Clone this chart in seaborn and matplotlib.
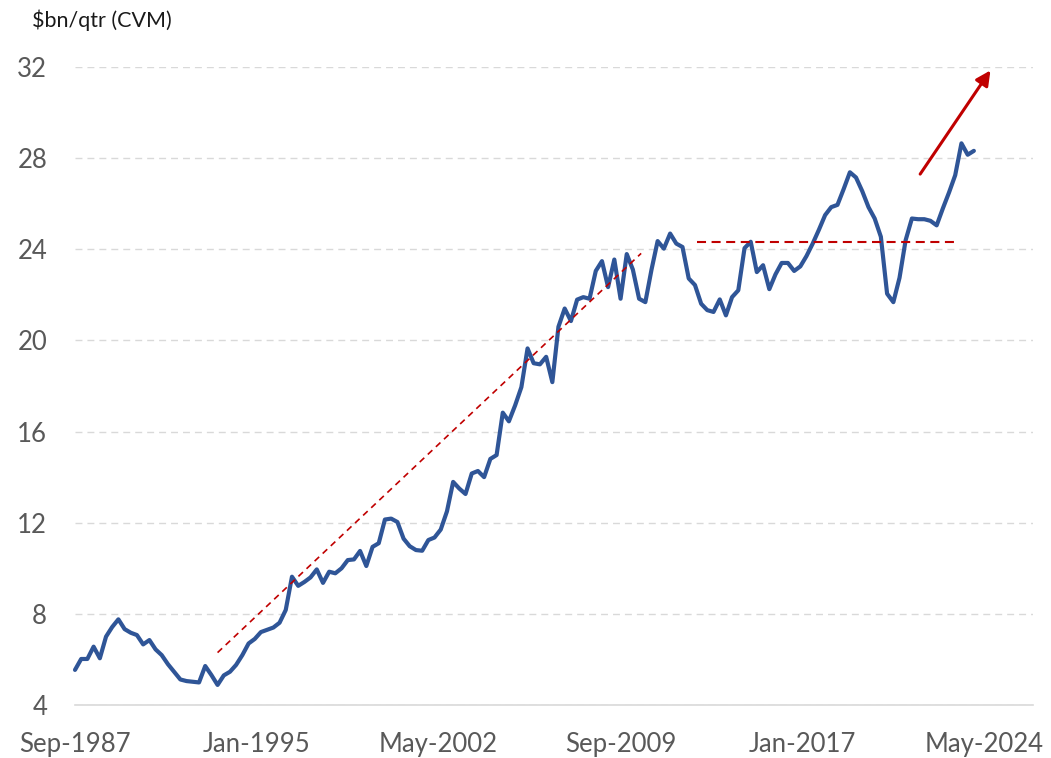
#Quarterly series, $bn/qtr (CVM), Sep-1987 to Dec-2023

import pandas as pd
import numpy as np
import seaborn as sns
import matplotlib.pyplot as plt
import matplotlib.dates as mdates

#Values, one per quarter
values = [5.54, 6.02, 6.02, 6.56, 6.05, 7.00, 7.42, 7.76, 7.33, 7.17,
          7.07, 6.66, 6.85, 6.44, 6.19, 5.79, 5.45, 5.12, 5.05, 5.02,
          4.99, 5.71, 5.32, 4.88, 5.30, 5.46, 5.76, 6.19, 6.70, 6.90,
          7.20, 7.30, 7.40, 7.61, 8.17, 9.63, 9.23, 9.40, 9.60, 9.95,
          9.36, 9.85, 9.78, 10.00, 10.36, 10.39, 10.76, 10.10, 10.94, 11.10,
          12.14, 12.18, 12.03, 11.30, 10.97, 10.80, 10.77, 11.24, 11.35, 11.70,
          12.50, 13.79, 13.50, 13.26, 14.16, 14.27, 14.00, 14.80, 14.97, 16.83,
          16.45, 17.15, 17.95, 19.65, 19.00, 18.95, 19.28, 18.17, 20.60, 21.40,
          20.85, 21.79, 21.90, 21.83, 23.05, 23.48, 22.34, 23.55, 21.83, 23.79,
          23.11, 21.83, 21.68, 23.11, 24.36, 24.03, 24.69, 24.25, 24.10, 22.72,
          22.43, 21.61, 21.33, 21.25, 21.80, 21.10, 21.90, 22.20, 24.05, 24.33,
          23.00, 23.30, 22.25, 22.90, 23.40, 23.40, 23.05, 23.25, 23.70, 24.25,
          24.86, 25.50, 25.85, 25.95, 26.65, 27.38, 27.15, 26.55, 25.85, 25.35,
          24.55, 22.05, 21.68, 22.75, 24.40, 25.35, 25.32, 25.32, 25.25, 25.05,
          25.80, 26.50, 27.25, 28.65, 28.15, 28.32]
dates = pd.date_range('1987-09-01', periods=len(values), freq='3MS')
df = pd.DataFrame({'date': dates, 'value': values})

#Tick labels on the x axis (every 88 months)
xtick_labels = ['Sep-1987', 'Jan-1995', 'May-2002', 'Sep-2009', 'Jan-2017', 'May-2024']
yticks = [4, 8, 12, 16, 20, 24, 28, 32]

#Red annotations: trend line, flat line, arrow
trend_x = ['1993-06-01', '2010-07-01']
trend_y = [6.3, 23.82]
flat_x = ['2012-10-01', '2023-03-01']
flat_y = [24.3, 24.3]
arrow_x = ['2021-10-01', '2024-08-01']
arrow_y = [27.3, 31.85]

sns.set_style('white')
plt.rcParams['font.family'] = ['Lato', 'DejaVu Sans']
plt.rcParams['lines.scale_dashes'] = False

fig = plt.figure(figsize=(10.51, 7.58), dpi=100)
ax = fig.add_axes([75/1051, 53/758, 958/1051, 638/758])

sns.lineplot(data=df, x='date', y='value', ax=ax, color='#2f5597', linewidth=3.0,
             solid_joinstyle='round', solid_capstyle='round', clip_on=False)

#trend + flat lines
ax.plot(pd.to_datetime(trend_x), trend_y, color='#c00000', linewidth=1.2, dashes=(4.5, 3.5))
ax.plot(pd.to_datetime(flat_x), flat_y, color='#c00000', linewidth=1.5, dashes=(6.5, 4))
ax.annotate('', xy=(pd.Timestamp(arrow_x[1]), arrow_y[1]),
            xytext=(pd.Timestamp(arrow_x[0]), arrow_y[0]),
            arrowprops=dict(arrowstyle='-|>', color='#c00000', lw=2.2,
                            mutation_scale=22, shrinkA=0, shrinkB=0))

#axes
ax.set_ylim(4, 32)
ax.set_yticks(yticks)
ax.set_xlim(pd.Timestamp('1987-09-01'), pd.Timestamp('2026-04-20'))
xticks = [pd.Timestamp(pd.to_datetime(l, format='%b-%Y')) for l in xtick_labels]
ax.set_xticks(xticks)
ax.set_xticklabels(xtick_labels)
ax.set_xlabel('')
ax.set_ylabel('')

ax.yaxis.grid(True, color='#d9d9d9', linewidth=1.0, linestyle=(0, (5, 3.6)))
ax.xaxis.grid(False)
for s in ['top', 'right', 'left']:
    ax.spines[s].set_visible(False)
ax.spines['bottom'].set_color('#d9d9d9')
ax.spines['bottom'].set_linewidth(1.2)
ax.set_axisbelow(True)

ax.tick_params(axis='y', length=0, pad=20, labelsize=18.5, labelcolor='#595959')
ax.tick_params(axis='x', length=6.5, width=1.2, color='#d9d9d9', direction='out',
               pad=13, labelsize=18.5, labelcolor='#595959')

fig.text(32/1051, 1 - 20/758, '$bn/qtr (CVM)', fontsize=15.5, color='#1a1a1a',
         ha='left', va='center')

plt.savefig('out.png', dpi=100)
